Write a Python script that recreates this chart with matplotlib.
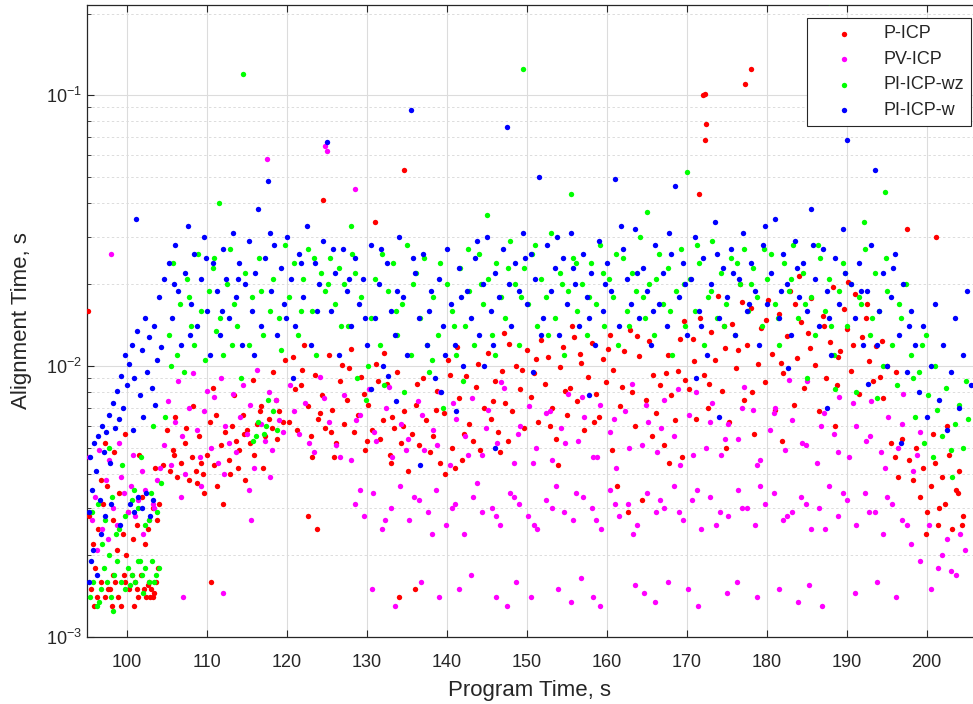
import matplotlib
matplotlib.use("Agg")
import matplotlib.pyplot as plt
import numpy as np

plt.rcParams['font.family'] = ['Liberation Sans', 'DejaVu Sans']

# alignment times, (program time s, alignment time ms)
p_icp = [
    # 95-104 low cluster
    (95.5,1.5),(95.9,1.3),(96.3,1.4),(96.8,1.6),(97.2,1.4),(97.6,1.5),(98.1,1.3),(98.5,1.6),(98.9,1.4),(99.3,1.3),
    (99.8,1.6),(100.2,1.5),(100.6,1.7),(101.0,1.6),(101.4,1.4),(101.8,1.7),(102.1,1.5),(102.4,1.4),(102.7,1.6),(103.0,1.5),
    (103.3,1.4),(103.6,1.6),(103.9,1.8),(96.0,1.8),(97.9,1.5),(99.6,1.7),(101.2,1.5),(102.9,1.4),(100.9,1.3),(98.3,1.7),
    (102.6,1.55),(103.4,1.45),
    # 95-104 middle
    (95.3,2.8),(95.8,2.2),(96.4,2.5),(97.0,3.1),(97.5,3.6),(98.2,2.7),(98.7,2.1),(99.0,3.4),(99.5,2.4),(100.1,2.9),
    (100.7,2.3),(101.3,2.6),(101.9,3.3),(102.6,2.5),(103.2,3.0),(103.8,2.7),(96.7,3.8),(99.9,2.0),(102.2,2.2),(104.0,3.1),
    (97.3,5.2),(98.4,4.8),(99.8,5.6),(101.5,4.7),(103.5,4.2),(95.1,16.0),
    # 104-120
    (104.5,4.3),(105.0,5.8),(105.4,4.1),(105.9,4.7),(106.3,3.9),(106.8,4.4),(107.2,5.2),(107.7,3.8),(108.1,4.6),(108.6,4.1),
    (109.0,5.5),(109.5,4.0),(110.0,4.7),(110.4,6.2),(110.9,4.3),(111.3,3.6),(111.8,5.1),(112.2,5.7),(112.7,4.5),(113.1,6.0),
    (113.6,5.3),(114.0,4.9),(114.5,6.6),(115.0,5.8),(115.4,5.2),(115.9,4.7),(116.3,6.1),(116.8,7.1),(117.2,5.5),(117.7,6.4),
    (118.1,5.9),(118.6,7.5),(119.0,6.8),(119.5,6.2),(106.0,6.5),(108.3,7.1),(110.7,8.3),(113.4,7.8),(115.7,8.9),(118.3,9.5),
    (109.6,3.4),(112.0,3.1),(114.8,3.8),(117.0,4.2),(119.8,10.5),(110.5,1.6),
    (105.8,4.9),(107.4,5.9),(109.2,4.4),(111.1,6.6),(112.9,4.0),(114.6,5.6),(116.6,6.8),(118.8,5.4),(108.8,3.7),(113.9,4.2),
    # 120-135
    (120.3,6.2),(120.8,10.8),(121.2,5.8),(121.7,8.5),(122.1,12.0),(122.6,7.1),(123.0,5.5),(123.5,9.3),(123.9,6.4),(124.4,7.8),
    (124.8,5.9),(125.3,11.0),(125.7,6.9),(126.2,5.2),(126.6,8.8),(127.1,6.1),(127.5,7.5),(128.0,11.6),(128.4,5.7),(128.9,6.6),
    (129.3,9.1),(129.8,4.9),(130.2,7.2),(130.7,5.8),(131.1,10.2),(131.6,5.4),(132.0,6.3),(132.5,8.6),(132.9,4.7),(133.4,5.9),
    (133.8,9.5),(134.3,5.2),(134.7,6.8),(135.2,4.1),(121.0,8.2),(123.2,4.6),(125.5,5.7),(127.8,9.8),(130.0,5.3),(132.2,11.2),
    (134.5,6.0),(122.6,2.8),(123.8,2.5),(124.5,41.0),(131.0,34.0),(134.6,53.0),(134.0,1.4),(136.0,1.5),
    # 135-170
    (135.6,5.6),(136.1,7.2),(136.5,5.1),(137.0,9.0),(137.4,6.3),(137.9,4.8),(138.3,5.5),(138.8,8.1),(139.2,4.4),(139.7,6.7),
    (140.1,10.5),(140.6,5.0),(141.0,4.2),(141.5,7.6),(141.9,4.5),(142.4,9.2),(142.8,6.1),(143.3,5.3),(143.7,8.4),(144.2,4.9),
    (144.6,7.0),(145.1,11.2),(145.5,6.4),(146.0,8.8),(146.4,5.7),(146.9,9.6),(147.3,7.3),(147.8,12.1),(148.2,6.8),(148.7,10.0),
    (149.1,8.2),(149.6,5.9),(150.0,11.5),(150.5,7.7),(150.9,9.4),(151.4,6.2),(151.8,12.5),(152.3,8.6),(152.7,10.8),(153.2,7.0),
    (153.6,5.4),(154.1,9.9),(154.5,11.8),(155.0,6.6),(155.4,8.3),(155.9,12.8),(156.3,7.4),(156.8,10.3),(157.2,5.8),(157.7,9.1),
    (158.1,12.2),(158.6,7.9),(159.0,6.5),(159.5,10.6),(159.9,8.7),(160.4,13.0),(160.8,9.7),(161.3,3.6),(161.7,7.1),(162.2,11.4),
    (162.6,2.9),(163.1,8.0),(163.5,6.0),(164.0,10.9),(164.4,3.2),(164.9,7.5),(165.3,12.4),(165.8,9.3),(166.2,6.7),(166.7,8.5),
    (167.1,5.1),(167.6,11.0),(168.0,7.8),(168.5,6.3),(168.9,9.6),(169.4,4.6),(169.8,8.9),
    # 170-197
    (170.3,8.2),(170.8,12.6),(171.2,6.4),(171.7,15.1),(172.1,9.3),(172.6,7.0),(173.0,13.4),(173.5,10.5),(173.9,18.2),(174.4,8.1),
    (174.8,11.7),(175.3,6.2),(175.7,14.3),(176.2,9.8),(176.6,20.1),(177.1,7.5),(177.5,12.0),(178.0,16.4),(178.4,5.6),(178.9,10.2),
    (179.3,13.8),(179.8,8.7),(180.2,17.5),(180.7,11.1),(181.1,6.9),(181.6,15.6),(182.0,9.4),(182.5,12.9),(182.9,19.0),(183.4,7.2),
    (183.8,10.7),(184.3,14.6),(184.7,8.3),(185.2,13.2),(185.6,17.8),(186.1,10.1),(186.5,6.8),(187.0,15.3),(187.4,9.0),(187.9,12.3),
    (188.3,19.6),(188.8,8.5),(189.2,11.4),(189.7,16.2),(190.1,13.7),(190.6,9.6),(191.0,18.4),(191.5,7.9),(191.9,12.8),(192.4,15.0),
    (192.8,10.4),(193.3,8.8),(193.7,11.9),(194.2,9.1),(194.6,7.6),(195.1,10.0),(195.5,5.2),(196.0,4.6),(196.4,3.9),(196.9,5.4),
    (172.0,100.0),(172.3,101.0),(172.4,78.0),(172.3,68.0),(171.5,43.0),(177.3,110.0),(178.0,125.0),(197.5,32.0),(201.2,30.0),
    # 120-197, second pass
    (121.9,9.7),(124.1,6.7),(126.9,10.1),(129.6,7.9),(131.4,8.8),(133.1,6.5),(136.3,8.6),(138.6,6.9),(140.4,9.3),(142.1,5.6),
    (143.9,10.2),(145.8,7.4),(147.6,5.3),(149.4,9.7),(151.1,10.6),(152.9,6.0),(154.8,8.1),(156.6,11.1),(158.4,6.2),(160.1,11.6),
    (161.9,8.4),(163.8,12.9),(165.6,5.5),(167.4,9.4),(169.1,12.6),(170.9,10.4),(172.8,8.6),(174.6,14.0),(176.4,11.5),(178.2,8.0),
    (179.9,14.8),(181.8,10.3),(183.6,16.9),(185.4,11.7),(187.2,14.1),(188.9,10.8),(190.8,12.0),(192.6,17.0),(194.4,12.4),(196.2,9.5),
    (125.9,4.6),(133.0,4.4),(139.8,4.0),(146.6,4.8),(153.9,4.3),(160.7,4.9),(167.8,4.4),(174.9,5.0),(181.9,5.3),(188.6,6.0),
    (141.3,11.8),(147.1,13.2),(155.7,14.1),(162.9,13.6),(169.6,14.7),(176.9,17.2),(184.1,21.5),(190.2,20.4),
    # 198-205
    (197.8,4.5),(198.3,3.8),(198.7,5.0),(199.2,3.3),(199.6,4.2),(200.1,2.9),(200.5,3.6),(201.0,4.4),(201.4,2.6),(201.9,3.9),
    (202.3,3.1),(202.8,4.7),(203.2,2.5),(203.7,3.5),(204.1,4.1),(204.6,2.8),(200.8,5.6),(202.5,6.0),(203.9,3.4),(199.9,2.4),
    (201.6,3.0),(204.4,2.6),
]

pv_icp = [
    # 95-104
    (95.2,4.6),(95.6,2.7),(96.0,3.3),(96.5,4.9),(96.9,2.5),(97.4,3.8),(97.8,4.5),(98.3,3.0),(98.7,2.6),(99.2,3.9),
    (99.6,3.4),(100.1,2.9),(100.5,3.6),(101.0,2.8),(101.4,3.2),(101.9,4.1),(102.3,3.5),(102.8,2.7),(103.2,3.1),(103.7,3.8),
    (104.1,4.2),(96.2,2.1),(97.6,2.3),(99.0,5.2),(100.8,4.7),(102.0,2.4),(103.4,3.0),(98.0,26.0),
    # 104-120
    (104.6,5.1),(105.1,7.4),(105.5,4.3),(106.0,6.2),(106.4,8.8),(106.9,5.5),(107.3,4.0),(107.8,7.0),(108.2,9.4),(108.7,5.8),
    (109.1,4.6),(109.6,6.8),(110.0,8.1),(110.5,5.0),(110.9,7.7),(111.4,4.4),(111.8,9.0),(112.3,6.0),(112.7,5.2),(113.2,7.9),
    (113.6,4.8),(114.1,6.5),(114.5,8.5),(115.0,5.6),(115.4,7.2),(115.9,4.2),(116.3,9.7),(116.8,6.1),(117.2,5.3),(117.7,8.0),
    (118.1,4.9),(118.6,7.5),(119.0,6.3),(119.5,5.7),(106.7,3.3),(109.3,3.6),(112.1,4.0),(115.2,3.5),(117.9,3.9),(107.0,1.4),
    (112.0,1.45),(115.5,2.7),(117.5,58.0),(124.8,65.0),(125.0,62.0),(128.5,45.0),
    # 120-200 upper band
    (120.4,8.5),(121.5,5.6),(122.3,7.3),(123.4,4.8),(124.2,9.1),(125.3,6.2),(126.1,5.1),(127.2,7.8),(128.0,4.5),(129.1,6.6),
    (130.3,8.2),(131.2,5.3),(132.4,7.0),(133.1,4.6),(134.3,6.1),(135.2,5.4),(136.4,7.4),(137.1,4.9),(138.3,5.8),(139.2,8.0),
    (140.4,4.3),(141.1,6.4),(142.3,5.5),(143.2,7.6),(144.4,4.7),(145.1,6.9),(146.3,5.2),(147.2,8.3),(148.4,4.4),(149.1,6.0),
    (150.3,7.1),(151.2,5.0),(152.4,6.7),(153.1,4.5),(154.3,5.9),(155.2,7.9),(156.4,5.3),(157.1,6.5),(158.3,4.6),(159.2,7.2),
    (160.4,5.7),(161.1,4.2),(162.3,6.8),(163.2,8.6),(164.4,5.1),(165.1,6.2),(166.3,4.8),(167.2,7.5),(168.4,5.5),(169.1,4.3),
    (170.3,6.6),(171.2,8.0),(172.4,5.0),(173.1,7.3),(174.3,4.7),(175.2,6.1),(176.4,5.4),(177.1,8.4),(178.3,6.9),(179.2,4.5),
    (180.4,5.8),(181.1,7.0),(182.3,4.9),(183.2,6.3),(184.4,5.2),(185.1,8.8),(186.3,4.4),(187.2,6.7),(188.4,5.6),(189.1,7.7),
    (190.3,4.6),(191.2,6.0),(192.4,5.3),(193.1,7.4),(194.3,4.8),(195.2,6.5),(196.4,5.0),(197.1,7.9),(198.3,4.1),(199.2,5.7),
    (120.9,6.8),(122.8,5.2),(124.7,7.6),(126.7,4.6),(128.6,6.3),(130.9,5.7),(132.8,8.4),(134.9,4.9),(136.9,6.6),(138.8,5.1),
    (140.8,7.3),(142.7,4.7),(144.9,5.9),(146.8,8.7),(148.9,5.6),(150.8,4.4),(152.9,6.8),(154.8,5.2),(156.9,7.7),(158.8,4.6),
    (160.9,6.4),(162.8,5.0),(164.9,7.2),(166.8,5.9),(168.9,8.2),(170.8,4.7),(172.9,6.2),(174.8,5.4),(176.9,7.0),(178.8,4.3),
    (180.9,6.7),(182.8,8.9),(184.9,5.1),(186.8,6.0),(188.9,4.8),(190.8,7.3),(192.9,5.5),(194.8,4.2),(196.9,6.1),(198.8,4.7),
    # 128-205 lower band
    (128.5,3.1),(129.7,2.8),(130.8,3.4),(131.9,2.5),(133.0,3.0),(134.2,3.6),(135.3,2.7),(136.5,3.2),(137.6,2.9),(138.7,3.5),
    (139.9,2.6),(141.0,3.1),(142.2,2.4),(143.3,3.3),(144.4,2.9),(145.6,3.0),(146.7,2.6),(147.9,3.4),(149.0,3.1),(150.1,2.8),
    (151.3,2.5),(152.4,3.2),(153.6,3.6),(154.7,2.9),(155.8,2.7),(157.0,3.3),(158.1,3.0),(159.3,2.5),(160.4,3.5),(161.5,2.8),
    (162.7,3.1),(163.8,2.6),(165.0,3.4),(166.1,2.9),(167.2,3.0),(168.4,3.6),(169.5,2.7),(170.7,3.2),(171.8,2.5),(172.9,3.3),
    (174.1,2.9),(175.2,2.8),(176.4,3.5),(177.5,3.0),(178.6,2.6),(179.8,3.1),(180.9,3.4),(182.1,2.7),(183.2,2.9),(184.3,3.3),
    (185.5,2.5),(186.6,3.0),(187.8,3.6),(188.9,2.8),(190.0,3.2),(191.2,2.6),(192.3,3.4),(193.5,2.9),(194.6,2.4),(195.7,3.1),
    (196.9,2.7),(198.0,2.2),(199.2,1.9),(200.3,2.6),(201.4,1.8),(202.6,2.3),(203.7,1.7),(204.8,2.1),
    (129.1,3.5),(132.3,2.7),(135.9,3.3),(138.1,2.4),(140.6,3.0),(143.8,3.7),(146.1,2.8),(148.4,3.3),(150.9,2.6),(153.1,3.0),
    (156.2,3.4),(158.7,2.7),(161.0,3.1),(163.3,2.4),(166.7,3.2),(169.0,2.9),(171.3,3.5),(173.6,2.6),(176.9,3.0),(179.2,3.6),
    (182.6,2.8),(184.9,3.1),(187.3,2.5),(189.6,3.4),(192.8,2.9),(195.1,3.3),(197.5,2.6),(201.9,2.0),(204.2,2.4),
    # sparse lowest band
    (130.7,1.5),(133.5,1.3),(136.8,1.6),(139.0,1.4),(141.5,1.5),(143.0,1.7),(146.2,1.4),(147.5,1.3),(148.6,1.6),(150.5,1.4),
    (153.9,1.5),(155.5,1.35),(156.8,1.65),(158.3,1.4),(159.1,1.3),(163.5,1.55),(164.6,1.45),(166.0,1.35),(167.6,1.6),(170.2,1.5),
    (171.4,1.3),(175.0,1.45),(176.3,1.6),(178.8,1.4),(181.5,1.5),(183.9,1.35),(185.3,1.55),(186.9,1.3),(191.0,1.45),(193.8,1.6),
    (196.2,1.4),(200.6,1.5),(203.0,1.75),
]

pi_icp_wz = [
    # 95-104 low cluster
    (95.4,1.4),(95.8,1.6),(96.2,1.3),(96.7,1.5),(97.1,1.8),(97.5,1.6),(98.0,1.4),(98.4,1.7),(98.8,1.9),(99.3,1.6),
    (99.7,1.5),(100.1,1.8),(100.6,1.7),(101.0,1.6),(101.4,1.9),(101.9,1.7),(102.3,1.8),(102.7,1.6),(103.1,1.9),(103.6,1.7),
    (104.0,1.8),(96.5,1.35),(98.2,1.25),(100.4,1.55),(102.0,1.45),(103.4,1.6),(97.8,2.0),(101.6,1.9),
    # 95-104 middle
    (95.6,2.9),(96.4,3.1),(97.3,2.7),(98.1,3.3),(99.0,2.5),(99.8,2.8),(100.6,3.2),(101.4,3.0),(102.2,2.6),(103.0,3.4),
    (103.8,2.9),(104.2,3.7),(96.9,2.2),(98.6,2.4),(100.9,3.5),(102.7,2.7),(97.7,5.0),(99.4,4.3),(101.8,4.6),(103.3,6.0),
    # 104-120
    (104.8,6.5),(105.3,13.0),(105.7,24.0),(106.2,11.0),(106.6,17.0),(107.1,9.5),(107.5,21.0),(108.0,14.0),(108.4,12.0),(108.9,26.0),
    (109.3,16.0),(109.8,10.5),(110.2,19.0),(110.7,23.0),(111.1,13.5),(111.6,15.0),(112.0,11.0),(112.5,20.0),(112.9,27.0),(113.4,17.0),
    (113.8,14.0),(114.3,9.0),(114.7,22.0),(115.2,12.0),(115.6,18.0),(116.1,5.5),(116.5,25.0),(117.0,13.0),(117.4,6.0),(117.9,16.0),
    (118.3,21.0),(118.8,5.8),(119.2,11.5),(119.7,28.0),(115.8,5.3),(116.4,6.2),(117.1,5.6),(117.6,7.5),(118.2,6.8),(105.5,10.0),
    (114.5,120.0),(111.5,40.0),(107.8,18.0),(110.9,25.0),(113.1,12.0),(116.8,19.0),(119.0,15.0),
    # 120-198
    (120.2,18),(120.9,24),(121.4,13),(122.0,21),(122.6,27),(123.1,16),(123.7,11),(124.3,22),(124.8,19),(125.4,25),
    (126.0,17),(126.5,23),(127.1,20),(127.6,14),(128.2,26),(128.8,9.0),(129.3,18),(129.9,7.5),(130.5,15),(131.0,21),
    (131.6,12),(132.1,8.5),(132.7,19),(133.3,24),(133.8,13),(134.4,17),(135.0,28),(135.5,11),(136.1,22),(136.6,15),
    (137.2,25),(137.8,9.5),(138.3,18),(138.9,13),(139.5,7.0),(140.0,20),(140.6,16),(141.1,11),(141.7,23),(142.3,14),
    (142.8,19),(143.4,12),(144.0,26),(144.5,17),(145.1,21),(145.6,13),(146.2,24),(146.8,18),(147.3,15),(147.9,29),
    (148.5,20),(149.0,12),(149.6,23),(150.1,17),(150.7,26),(151.3,14),(151.8,21),(152.4,18),(153.0,31),(153.5,15),
    (154.1,22),(154.6,11),(155.2,19),(155.8,25),(156.3,16),(156.9,20),(157.5,13),(158.0,24),(158.6,17),(159.1,28),
    (159.7,14),(160.3,21),(160.8,18),(161.4,12),(162.0,25),(162.5,16),(163.1,22),(163.6,19),(164.2,30),(164.8,15),
    (165.3,20),(165.9,13),(166.5,26),(167.0,17),(167.6,23),(168.1,11),(168.7,19),(169.3,27),(169.8,14),(170.4,21),
    (171.0,16),(171.5,24),(172.1,12),(172.6,18),(173.2,29),(173.8,15),(174.3,22),(174.9,17),(175.5,25),(176.0,13),
    (176.6,20),(177.1,27),(177.7,16),(178.3,23),(178.8,18),(179.4,14),(180.0,21),(180.5,26),(181.1,17),(181.6,12),
    (182.2,24),(182.8,19),(183.3,28),(183.9,15),(184.5,22),(185.0,9.0),(185.6,18),(186.1,13),(186.7,25),(187.3,16),
    (187.8,21),(188.4,11),(189.0,19),(189.5,24),(190.1,14),(190.6,20),(191.2,8.0),(191.8,17),(192.3,27),(192.9,13),
    (193.5,22),(194.0,16),(194.6,10),(195.1,19),(195.7,12),(196.3,8.5),(196.8,15),(197.4,20),(198.0,11),
    (121.7,16),(123.4,25),(125.1,20),(126.8,14),(128.5,22),(130.2,10),(131.9,26),(133.6,16),(135.8,20),(137.5,12),
    (139.2,24),(140.9,14),(142.6,27),(144.3,20),(146.0,11),(147.6,23),(149.3,18),(151.0,28),(152.7,13),(154.4,20),
    (156.1,24),(157.8,18),(159.5,22),(161.2,26),(162.8,14),(164.5,18),(166.2,21),(167.9,16),(169.6,20),(171.3,28),
    (173.0,19),(174.7,14),(176.3,24),(178.0,20),(179.7,27),(181.4,15),(183.1,21),(184.8,17),(186.4,28),(188.1,14),
    (189.8,22),(191.5,18),(193.2,15),(194.9,25),(196.6,17),(198.3,9.0),(199.9,13),
    (134.7,8.0),(138.1,10.5),(142.0,8.8),(188.6,8.2),(193.8,7.6),
    (149.5,125.0),(187.8,220.0),(170.0,52.0),(192.2,34.0),(194.8,44.0),(155.5,43.0),(128.0,33.0),(145.0,36.0),(165.0,37.0),
    # 198-205
    (198.6,6.5),(199.1,9.5),(199.7,5.2),(200.2,7.8),(200.8,4.6),(201.3,6.9),(201.9,5.5),(202.4,8.3),(203.0,4.9),(203.5,6.1),
    (204.1,7.2),(204.6,5.0),(205.2,6.4),(199.4,12.0),(201.0,10.0),(203.2,3.9),(204.9,8.8),
]

pi_icp_w = [
    # 95-100
    (95.2,2.9),(95.4,4.6),(95.6,3.5),(95.9,5.2),(96.1,4.1),(96.4,5.5),(96.6,3.2),(96.9,6.0),(97.1,4.8),(97.4,5.7),
    (97.7,6.6),(97.9,4.4),(98.2,7.3),(98.5,5.9),(98.7,8.1),(99.0,6.4),(99.3,9.2),(99.5,7.0),(99.8,11.0),(100.0,8.5),
    (95.3,1.6),(95.7,2.1),(96.2,1.7),(96.8,2.4),(95.5,1.9),(97.2,2.8),(98.0,3.1),(99.1,2.6),
    # 100-105
    (100.3,10.2),(100.6,12.0),(100.9,9.0),(101.1,35.0),(101.3,13.5),(101.6,7.8),(101.9,11.5),(102.2,15.0),(102.5,9.5),(102.8,12.8),
    (103.1,8.3),(103.4,14.0),(103.7,10.5),(104.0,18.0),(104.3,11.8),(104.6,21.0),(100.4,3.1),(100.9,2.9),(101.4,3.3),(101.9,3.0),
    (102.4,3.4),(102.9,2.8),(103.3,3.2),(100.7,5.8),(102.0,6.5),(103.5,7.2),
    # 105-198
    (105.2,24),(105.6,15),(106.0,28),(106.4,19),(106.8,12),(107.2,22),(107.6,33),(108.0,17),(108.4,26),(108.8,14),
    (109.2,21),(109.6,30),(110.0,16),(110.4,11),(110.8,24),(111.2,19),(111.6,13),(112.0,27),(112.4,21),(112.8,15),
    (113.2,31),(113.6,18),(114.0,24),(114.4,12),(114.8,20),(115.2,29),(115.6,16),(116.0,22),(116.4,38),(116.8,14),
    (117.2,25),(117.6,48),(118.0,19),(118.4,28),(118.8,13),(119.2,23),(119.6,17),(120.0,30),(120.5,21),(121.0,14),
    (121.5,26),(122.0,18),(122.5,33),(123.0,12),(123.5,24),(124.0,20),(124.5,29),(125.0,67),(125.5,16),(126.0,22),
    (126.5,11),(127.0,27),(127.5,19),(128.0,14),(128.5,25),(129.0,17),(129.5,21),(130.0,12),(130.5,28),(131.0,15),
    (131.5,20),(132.0,10),(132.5,24),(133.0,16),(133.5,13),(134.0,30),(134.5,18),(135.0,11),(135.5,88),(136.0,22),
    (136.5,15),(137.0,26),(137.5,12),(138.0,19),(138.5,9.0),(139.0,21),(139.5,14),(140.0,27),(140.5,17),(141.0,12),
    (141.5,23),(142.0,10),(142.5,19),(143.0,15),(143.5,25),(144.0,13),(144.5,20),(145.0,30),(145.5,16),(146.0,22),
    (146.5,18),(147.0,27),(147.5,76),(148.0,14),(148.5,24),(149.0,19),(149.5,31),(150.0,17),(150.5,26),(151.0,21),
    (151.5,50),(152.0,15),(152.5,28),(153.0,19),(153.5,23),(154.0,13),(154.5,25),(155.0,17),(155.5,31),(156.0,20),
    (156.5,14),(157.0,26),(157.5,18),(158.0,22),(158.5,12),(159.0,29),(159.5,16),(160.0,24),(160.5,19),(161.0,49),
    (161.5,14),(162.0,27),(162.5,21),(163.0,17),(163.5,32),(164.0,15),(164.5,23),(165.0,19),(165.5,12),(166.0,28),
    (166.5,17),(167.0,22),(167.5,14),(168.0,26),(168.5,46),(169.0,18),(169.5,24),(170.0,13),(170.5,21),(171.0,30),
    (171.5,16),(172.0,25),(172.5,11),(173.0,20),(173.5,34),(174.0,15),(174.5,23),(175.0,18),(175.5,27),(176.0,13),
    (176.5,21),(177.0,31),(177.5,16),(178.0,24),(178.5,19),(179.0,12),(179.5,28),(180.0,17),(180.5,22),(181.0,35),
    (181.5,15),(182.0,26),(182.5,20),(183.0,13),(183.5,29),(184.0,18),(184.5,24),(185.0,16),(185.5,38),(186.0,21),
    (186.5,14),(187.0,27),(187.5,19),(188.0,11),(188.5,25),(189.0,17),(189.5,32),(190.0,68),(190.5,20),(191.0,15),
    (191.5,24),(192.0,12),(192.5,19),(193.0,28),(193.5,53),(194.0,16),(194.5,22),(195.0,10),(195.5,18),(196.0,26),
    (196.5,13),(197.0,20),(197.5,9.5),(198.0,16),
    (105.9,20),(107.9,13),(109.9,25),(111.9,16),(113.9,21),(115.9,11),(117.9,31),(119.9,15),(121.8,24),(123.8,16),
    (125.8,27),(127.8,21),(129.8,15),(131.8,27),(133.8,19),(135.8,25),(137.8,16),(139.8,11),(141.8,18),(143.8,29),
    (145.8,12),(147.8,20),(149.8,25),(151.8,13),(153.8,30),(155.8,23),(157.8,15),(159.8,20),(161.8,33),(163.8,22),
    (165.8,16),(167.8,31),(169.8,20),(171.8,14),(173.8,26),(175.8,22),(177.8,17),(179.8,33),(181.8,19),(183.8,23),
    (185.8,28),(187.8,15),(189.8,22),(191.8,19),(193.8,12),(195.8,23),(197.8,14),
    (187.5,7.0),(196.8,5.2),(174.0,6.5),(157.8,7.8),(146.0,5.0),(136.7,4.3),(130.5,8.2),(120.8,9.0),(141.2,6.8),(133.7,7.4),
    (132.7,9.2),(139.3,8.0),(144.7,10.0),(150.8,9.5),(171.2,9.0),(182.7,9.8),(192.7,8.6),
    # 198-205
    (198.5,12.0),(199.0,8.0),(199.5,14.0),(200.0,6.5),(200.5,10.0),(201.0,17.0),(201.5,7.5),(202.0,12.0),(202.5,5.8),(203.0,9.5),
    (203.5,15.0),(204.0,7.0),(204.5,11.0),(205.0,19.0),(205.5,8.5),
]

series = [("P-ICP", p_icp, "#ff0000"),
          ("PV-ICP", pv_icp, "#ff00ff"),
          ("PI-ICP-wz", pi_icp_wz, "#00ff00"),
          ("PI-ICP-w", pi_icp_w, "#0000ff")]

fig = plt.figure(figsize=(9.73, 7.04), dpi=100)
ax = fig.add_axes([87/973, 67/704, 886/973, 632/704])

for name, pts, col in series:
    t = np.array([p[0] for p in pts])
    dt = np.array([p[1] for p in pts]) / 1000.0   # ms -> s
    ax.scatter(t, dt, s=15, c=col, linewidths=0, label=name, zorder=3)

ax.set_yscale("log")
ax.set_xlim(95, 205.8)
ax.set_ylim(1e-3, 0.215)
ax.set_xticks(np.arange(100, 201, 10))

txt = "#262626"
ax.grid(True, which="major", color="#dcdcdc", linewidth=0.8, zorder=0)
ax.grid(True, which="minor", axis="y", color="#dcdcdc", linewidth=0.7,
        linestyle=(0, (2.5, 2.5)), zorder=0)
ax.set_axisbelow(True)
ax.tick_params(which="both", direction="in", top=True, right=False,
               colors=txt, labelsize=13)
ax.tick_params(which="major", length=5)
ax.tick_params(which="minor", length=3)
ax.tick_params(axis="x", pad=12)
for side in ["left", "bottom", "top"]:
    ax.spines[side].set_color(txt)
    ax.spines[side].set_linewidth(0.9)
ax.spines["right"].set_visible(False)

ax.set_xlabel("Program Time, s", fontsize=16, color=txt, labelpad=7)
ax.set_ylabel("Alignment Time, s", fontsize=16, color=txt, labelpad=10)

leg = ax.legend(loc="upper right", bbox_to_anchor=(0.998, 0.979), borderaxespad=0,
                fontsize=13, frameon=True, fancybox=False, edgecolor="#262626",
                framealpha=1, scatterpoints=1, markerscale=1.0,
                handletextpad=0.55, labelspacing=0.47, borderpad=0.4,
                handlelength=3.3)
leg.get_frame().set_linewidth(0.8)
for t in leg.get_texts():
    t.set_color(txt)

fig.savefig("out.png", dpi=100)
